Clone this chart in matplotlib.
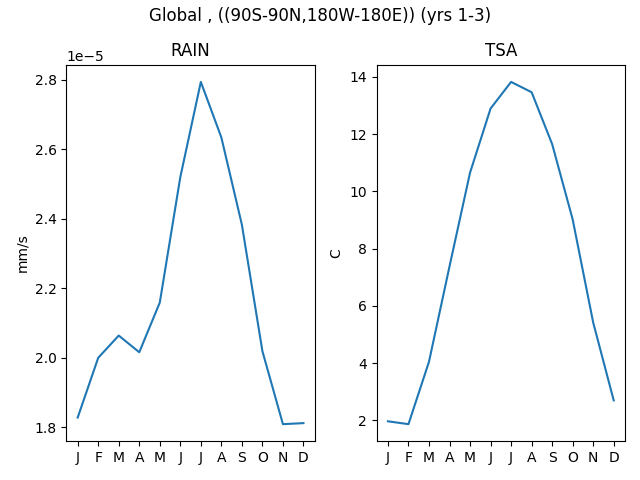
import matplotlib
matplotlib.use("Agg")
import matplotlib.pyplot as plt

months = ["J", "F", "M", "A", "M", "J", "J", "A", "S", "O", "N", "D"]

# monthly climatology
rain = [1.828e-5, 2.000e-5, 2.064e-5, 2.016e-5, 2.159e-5, 2.520e-5,
        2.794e-5, 2.634e-5, 2.383e-5, 2.019e-5, 1.809e-5, 1.812e-5]
tsa = [1.97, 1.87, 4.05, 7.38, 10.65, 12.89,
       13.82, 13.46, 11.65, 9.02, 5.42, 2.70]

fig, (ax1, ax2) = plt.subplots(1, 2, figsize=(6.4, 4.8), dpi=100)
fig.suptitle("Global , ((90S-90N,180W-180E)) (yrs 1-3)", y=0.985)

x = range(len(months))
ax1.plot(x, rain)
ax1.set_title("RAIN")
ax1.set_ylabel("mm/s")
ax1.set_xticks(list(x))
ax1.set_xticklabels(months)

ax2.plot(x, tsa)
ax2.set_title("TSA")
ax2.set_ylabel("C")
ax2.set_xticks(list(x))
ax2.set_xticklabels(months)

fig.tight_layout()
fig.subplots_adjust(top=0.865)
fig.savefig("out.png")
